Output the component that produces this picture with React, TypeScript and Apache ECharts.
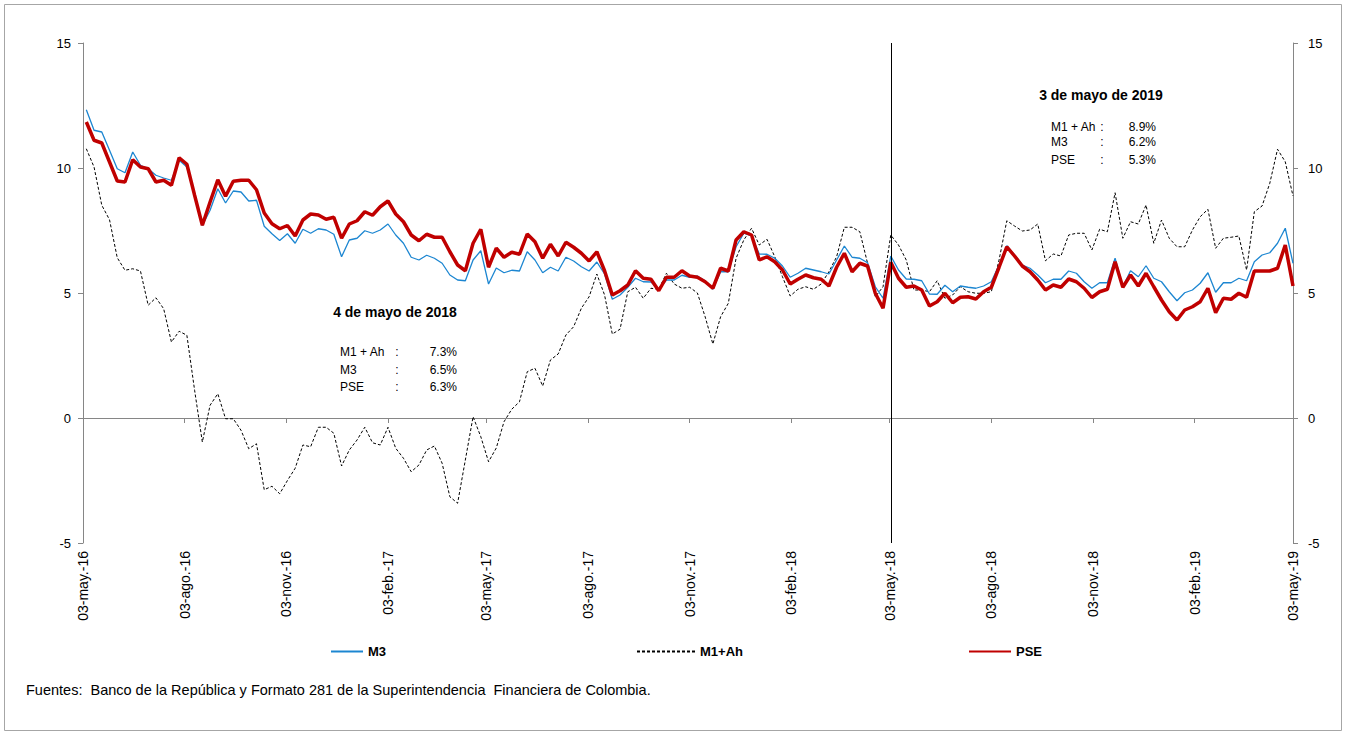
import React, { useEffect, useRef } from "react";
import * as echarts from "echarts";

// Quarterly tick dates and their labels
const tickDates = [
  "2016-05-03", "2016-08-03", "2016-11-03", "2017-02-03", "2017-05-03", "2017-08-03", "2017-11-03",
  "2018-02-03", "2018-05-03", "2018-08-03", "2018-11-03", "2019-02-03", "2019-05-03",
];
const tickLabels = [
  "03-may.-16", "03-ago.-16", "03-nov.-16", "03-feb.-17", "03-may.-17", "03-ago.-17", "03-nov.-17",
  "03-feb.-18", "03-may.-18", "03-ago.-18", "03-nov.-18", "03-feb.-19", "03-may.-19",
];
const yTicks = [-5, 0, 5, 10, 15];
const seriesNames = ["M3", "M1+Ah", "PSE"];
const markerDate = "2018-05-04";

// Weekly values (Fridays, from 06-may-16 to 03-may-19)
const m3 = [
  12.33, 11.51, 11.44, 10.71, 9.97, 9.81, 10.64, 10.11, 9.97, 9.71, 9.6, 9.51, 10.31, 10.04, 8.9, 7.7, 8.31, 9.17, 8.6, 9.08, 9.04, 8.68, 8.71, 7.67, 7.37, 7.1, 7.37,
  6.99, 7.55, 7.39, 7.57, 7.52, 7.35, 6.45, 7.12, 7.19, 7.49, 7.39, 7.52, 7.76, 7.32, 6.99, 6.43, 6.32, 6.51, 6.39, 6.19, 5.72, 5.52, 5.49, 6.32, 6.69, 5.36,
  6.0, 5.81, 5.91, 5.88, 6.65, 6.32, 5.81, 6.03, 5.88, 6.43, 6.28, 6.05, 5.88, 6.24, 5.76, 4.75, 4.92, 5.23, 5.59, 5.45, 5.44, 5.15, 5.52, 5.52, 5.71, 5.63, 5.68,
  5.49, 5.15, 5.85, 5.85, 6.85, 7.39, 7.28, 6.56, 6.55, 6.39, 6.08, 5.63, 5.79, 5.99, 5.92, 5.85, 5.76, 6.32, 6.88, 6.43, 6.39, 6.21, 5.25, 4.79, 6.48,
  5.92, 5.56, 5.55, 5.49, 4.96, 4.95, 5.31, 5.05, 5.28, 5.23, 5.19, 5.28, 5.45, 6.12, 6.89, 6.52, 6.12, 5.99, 5.72, 5.41, 5.55, 5.55, 5.88, 5.79, 5.45, 5.19,
  5.41, 5.41, 6.39, 5.25, 5.89, 5.65, 6.09, 5.59, 5.45, 5.05, 4.69, 5.01, 5.12, 5.39, 5.81, 5.03, 5.41, 5.41, 5.59, 5.49, 6.25, 6.52, 6.61, 6.99, 7.59, 6.19,
];
const pse = [
  11.84, 11.11, 11.0, 10.24, 9.48, 9.44, 10.33, 10.04, 9.97, 9.44, 9.51, 9.31, 10.41, 10.15, 8.91, 7.71, 8.64, 9.53, 8.87, 9.47, 9.51, 9.51, 9.13, 8.2, 7.77, 7.57, 7.7,
  7.28, 7.92, 8.16, 8.12, 7.95, 8.03, 7.19, 7.76, 7.89, 8.25, 8.11, 8.45, 8.68, 8.16, 7.85, 7.32, 7.09, 7.35, 7.23, 7.23, 6.65, 6.12, 5.89, 6.99, 7.55, 6.03,
  6.79, 6.43, 6.63, 6.55, 7.36, 7.05, 6.39, 6.95, 6.48, 7.03, 6.83, 6.59, 6.28, 6.65, 5.89, 4.92, 5.09, 5.32, 5.89, 5.59, 5.55, 5.09, 5.63, 5.63, 5.89, 5.68, 5.63,
  5.45, 5.19, 5.99, 5.88, 7.12, 7.45, 7.32, 6.32, 6.45, 6.25, 5.92, 5.36, 5.55, 5.72, 5.61, 5.55, 5.28, 6.03, 6.59, 5.85, 6.19, 6.08, 4.99, 4.39, 6.23,
  5.59, 5.23, 5.28, 5.12, 4.48, 4.65, 4.99, 4.61, 4.83, 4.85, 4.76, 5.05, 5.23, 6.03, 6.85, 6.48, 6.08, 5.85, 5.52, 5.12, 5.32, 5.23, 5.56, 5.45, 5.19, 4.82,
  5.05, 5.15, 6.25, 5.23, 5.72, 5.28, 5.79, 5.25, 4.72, 4.25, 3.92, 4.32, 4.45, 4.65, 5.19, 4.21, 4.79, 4.75, 4.99, 4.83, 5.88, 5.88, 5.88, 5.99, 6.92, 5.28,
];
const m1ah = [
  10.77, 10.04, 8.51, 7.93, 6.41, 5.91, 5.97, 5.88, 4.51, 4.81, 4.37, 3.04, 3.47, 3.31, 1.11, -0.96, 0.51, 0.97, -0.03, -0.03, -0.49, -1.23, -1.03, -2.87, -2.73, -3.03, -2.5,
  -2.01, -1.08, -1.15, -0.37, -0.37, -0.61, -1.92, -1.28, -0.88, -0.37, -0.99, -1.08, -0.37, -1.21, -1.61, -2.15, -1.88, -1.28, -1.12, -1.81, -3.15, -3.41, -1.68, 0.05, -0.75, -1.75,
  -1.2, -0.15, 0.35, 0.65, 1.85, 1.99, 1.28, 2.32, 2.56, 3.32, 3.65, 4.39, 4.85, 5.76, 4.92, 3.36, 3.55, 5.05, 5.23, 4.79, 5.19, 5.15, 5.79, 5.36, 5.19, 5.23, 5.0,
  4.05, 2.96, 4.05, 4.59, 6.39, 7.12, 7.59, 6.92, 7.15, 6.45, 5.65, 4.88, 5.15, 5.25, 5.15, 5.36, 5.85, 6.45, 7.63, 7.63, 7.45, 6.19, 4.85, 5.25, 7.32,
  6.92, 6.32, 5.12, 5.12, 5.05, 5.49, 4.79, 4.92, 5.25, 5.05, 4.99, 4.99, 5.05, 6.32, 7.89, 7.68, 7.48, 7.52, 7.76, 6.29, 6.56, 6.48, 7.32, 7.39, 7.39, 6.72,
  7.55, 7.45, 9.01, 7.19, 7.85, 7.76, 8.52, 6.99, 7.92, 7.19, 6.85, 6.85, 7.52, 8.05, 8.35, 6.79, 7.19, 7.23, 7.28, 5.92, 8.25, 8.48, 9.39, 10.75, 10.25, 8.88,
];

// Annotation tables
const note2018Title = "4 de mayo de 2018";
const note2018Rows = [["M1 + Ah", "7.3%"], ["M3", "6.5%"], ["PSE", "6.3%"]];
const note2019Title = "3 de mayo de 2019";
const note2019Rows = [["M1 + Ah", "8.9%"], ["M3", "6.2%"], ["PSE", "5.3%"]];
const sourceNote = "Fuentes:  Banco de la República y Formato 281 de la Superintendencia  Financiera de Colombia.";

const DAY = 86400000;
const iso = (t: number) => new Date(t).toISOString().slice(0, 10);
const dayCategories: string[] = [];
for (let t = Date.UTC(2016, 4, 3); t <= Date.UTC(2019, 4, 3); t += DAY) dayCategories.push(iso(t));
const weekDates = m3.map((_, i) => iso(Date.UTC(2016, 4, 6) + i * 7 * DAY));

const FONT = "'Liberation Sans', Arial, sans-serif";
const NARROW = "'Liberation Sans Narrow', 'Arial Narrow', 'Liberation Sans', sans-serif";

function noteGraphics(title: string, rows: string[][], cx: number, ty: number, lx: number, colonX: number, rx: number, ry: number[]) {
  const els: any[] = [
    { type: "text", x: cx, y: ty, style: { text: title, fontFamily: FONT, fontSize: 14, fontWeight: "bold", fill: "#000", align: "center", verticalAlign: "middle" } },
  ];
  rows.forEach((r, i) => {
    els.push({ type: "text", x: lx, y: ry[i], style: { text: r[0], fontFamily: FONT, fontSize: 12, fill: "#000", align: "left", verticalAlign: "middle" } });
    els.push({ type: "text", x: colonX, y: ry[i], style: { text: ":", fontFamily: FONT, fontSize: 12, fill: "#000", align: "center", verticalAlign: "middle" } });
    els.push({ type: "text", x: rx, y: ry[i], style: { text: r[1], fontFamily: FONT, fontSize: 12, fill: "#000", align: "right", verticalAlign: "middle" } });
  });
  return els;
}

export default function App() {
  const ref = useRef<HTMLDivElement>(null);
  useEffect(() => {
    document.body.style.margin = "0";
    const chart = echarts.init(ref.current!, null, { renderer: "svg" });
    const showTick = (_: number, v: string) => tickDates.indexOf(v) >= 0;
    const axisGray = "#868686";
    const yAxisBase = {
      type: "value" as const,
      min: yTicks[0],
      max: yTicks[yTicks.length - 1],
      interval: 5,
      splitLine: { show: false },
      axisLine: { show: true, lineStyle: { color: axisGray, width: 1 } },
      axisTick: { show: true, inside: false, length: 5, lineStyle: { color: axisGray } },
    };
    const legendText = { fontFamily: NARROW, fontWeight: "bold", fontSize: 13, color: "#000" };
    chart.setOption({
      animation: false,
      backgroundColor: "#fff",
      grid: { left: 83, right: 53, top: 43, bottom: 190, containLabel: false },
      legend: [
        { data: [seriesNames[0]], left: 325, top: 640, itemWidth: 32, itemHeight: 10, itemStyle: { opacity: 0 }, textStyle: legendText },
        { data: [seriesNames[1]], left: 631, top: 640, itemWidth: 58, itemHeight: 10, itemStyle: { opacity: 0 }, textStyle: legendText },
        { data: [seriesNames[2]], left: 963, top: 640, itemWidth: 42, itemHeight: 10, itemStyle: { opacity: 0 }, textStyle: legendText },
      ],
      xAxis: {
        type: "category",
        data: dayCategories,
        boundaryGap: false,
        axisLine: { show: true, lineStyle: { color: axisGray } },
        axisTick: { show: true, interval: showTick, length: 5, lineStyle: { color: axisGray } },
        axisLabel: {
          interval: showTick,
          rotate: 90,
          margin: 8,
          fontSize: 14,
          fontFamily: FONT,
          color: "#000",
          formatter: (v: string) => tickLabels[tickDates.indexOf(v)] ?? "",
        },
        splitLine: { show: false },
      },
      yAxis: [
        { ...yAxisBase, position: "left", axisLabel: { margin: 12, fontSize: 13, fontFamily: FONT, color: "#000" } },
        { ...yAxisBase, position: "right", axisLabel: { margin: 15, fontSize: 13, fontFamily: FONT, color: "#000" } },
      ],
      graphic: [
        { type: "rect", shape: { x: 4.5, y: 4.5, width: 1337, height: 726 }, style: { fill: "none", stroke: "#a6a6a6", lineWidth: 1 }, silent: true },
        ...noteGraphics(note2018Title, note2018Rows, 395, 312, 340, 397, 457, [352, 370, 387]),
        ...noteGraphics(note2019Title, note2019Rows, 1101, 95, 1051, 1102, 1156, [127, 142, 160]),
        { type: "text", x: 26, y: 690, style: { text: sourceNote, fontFamily: FONT, fontSize: 14.5, fill: "#000", align: "left", verticalAlign: "middle" } },
      ],
      series: [
        {
          name: seriesNames[0], type: "line", yAxisIndex: 0, symbol: "none", showSymbol: false,
          data: m3.map((v, i) => [weekDates[i], v]),
          lineStyle: { color: "#1c86d1", width: 1.3 }, itemStyle: { color: "#1c86d1" }, z: 3,
        },
        {
          name: seriesNames[1], type: "line", yAxisIndex: 0, symbol: "none", showSymbol: false,
          data: m1ah.map((v, i) => [weekDates[i], v]),
          lineStyle: { color: "#000", width: 1, type: [3, 2] }, itemStyle: { color: "#000" }, z: 2,
          markLine: {
            silent: true, symbol: "none", animation: false,
            label: { show: false },
            lineStyle: { color: "#000", width: 1, type: "solid" },
            data: [{ xAxis: markerDate }],
          },
        },
        {
          name: seriesNames[2], type: "line", yAxisIndex: 0, symbol: "none", showSymbol: false,
          data: pse.map((v, i) => [weekDates[i], v]),
          lineStyle: { color: "#c00000", width: 3.5 }, itemStyle: { color: "#c00000" }, z: 4,
        },
      ],
    });
    return () => chart.dispose();
  }, []);
  return <div ref={ref} style={{ width: 1346, height: 733 }} />;
}
